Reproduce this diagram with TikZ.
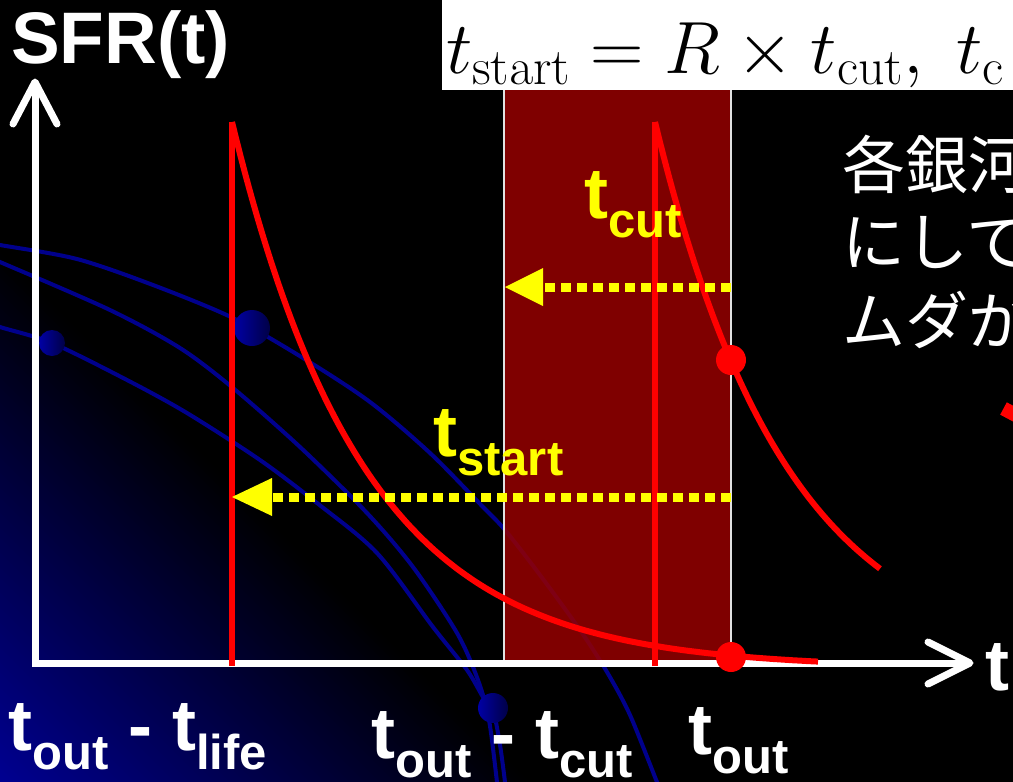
\RequirePackage{fix-cm}
\documentclass[tikz,border=0pt]{standalone}
\usepackage[no-math]{fontspec}
\setmainfont{Liberation Sans}
\newfontfamily\jpfont{Noto Sans CJK JP}
\usetikzlibrary{calc}
\definecolor{glowblue}{RGB}{0,0,145}
\definecolor{orbitblue}{RGB}{0,0,140}
\definecolor{ballhi}{RGB}{0,0,165}
\definecolor{balllo}{RGB}{0,0,70}
\definecolor{boxred}{RGB}{150,0,0}
\definecolor{sfrred}{RGB}{255,0,0}
\definecolor{labyellow}{RGB}{255,255,0}
\definecolor{edgegray}{RGB}{225,225,225}
\newcommand\tsb[1]{t\raisebox{-19pt}{\fontsize{49}{49}\selectfont #1}}
\tikzset{
  orbit/.style={draw=orbitblue, line width=4pt},
  ballshade/.style={left color=ballhi, right color=balllo},
  axisline/.style={draw=white, line width=7pt, line join=miter},
  axisbarb/.style={draw=white, line width=7pt, line cap=round, line join=round},
  sfr/.style={draw=sfrred, line width=6pt},
  sfrdot/.style={fill=sfrred},
  ydots/.style={draw=labyellow, line width=9pt, dash pattern=on 10pt off 6pt},
  yhead/.style={fill=labyellow},
  biglab/.style={inner sep=0pt, anchor=base west, font=\fontsize{72}{72}\selectfont\bfseries},
  jp/.style={inner sep=0pt, anchor=base west, text=white, font=\jpfont\fontsize{63}{63}\selectfont},
  boxedge/.style={draw=edgegray, line width=2pt}
}
\begin{document}
\begin{tikzpicture}[x=1pt,y=-1pt]
\useasboundingbox (0,0) rectangle (1013,782);
\clip (0,0) rectangle (1013,782);
\fill[black] (0,0) rectangle (1013,782);
% diagonal glow from the lower left corner
\coordinate (corner) at (0,782);
\foreach \i [evaluate=\i as \c using 5*\i, evaluate=\i as \p using {100*(1-(5*\i-2.5)/530)}] in {106,105,...,1}
  \fill[glowblue!\p!black] (corner) -- ++(\c,0) -- ++(-\c,-\c) -- cycle;
% orbits
\draw[orbit] plot[smooth] coordinates {(-10,243) (0,245) (77,259) (153,285) (233,318) (303,358) (370,402) (430,453) (483,507) (505,530) (540,575) (580,630) (607,672) (630,715) (657,782) (665,800)};
\draw[orbit] plot[smooth] coordinates {(-10,258) (0,262) (110,310) (180,348) (233,388) (300,447) (367,513) (413,567) (457,633) (478,680) (489,720) (497,782) (499,800)};
\draw[orbit] plot[smooth] coordinates {(-10,322) (0,327) (52,343) (127,380) (187,413) (260,460) (317,503) (377,553) (433,627) (467,670) (483,697) (493,710) (500,745) (505,782) (507,800)};
\shade[ballshade] (52,343) circle (13pt);
\shade[ballshade] (252,328) circle (18pt);
\shade[ballshade] (493,708) circle (15pt);
% cut window
\fill[boxred, fill opacity=0.85] (504,90) rectangle (731,663);
\coordinate (bl) at (504,90);
\coordinate (blb) at (504,663);
\coordinate (br) at (731,90);
\coordinate (brb) at (731,663);
\draw[boxedge] (bl) -- (blb);
\draw[boxedge] (br) -- (brb);
% axes
\coordinate (O) at (35,663);
\coordinate (ytop) at (35,82);
\coordinate (xend) at (970,663);
\draw[axisline] (ytop) -- (O) -- (xend);
\draw[axisbarb] ($(ytop)+(-22,42)$) -- (ytop) -- ($(ytop)+(22,42)$);
\draw[axisbarb] ($(xend)+(-42,-21)$) -- (xend) -- ($(xend)+(-42,21)$);
% SFR curves
\coordinate (peakA) at (232,122);
\coordinate (baseA) at (232,666);
\coordinate (peakB) at (655,122);
\coordinate (baseB) at (655,666);
\draw[sfr] (baseA) -- (peakA);
\draw[sfr] (baseB) -- (peakB);
\draw[sfr] plot[domain=232:818, samples=140] (\x, {668-546*exp(-(\x-232)/132)});
\draw[sfr] plot[domain=655:880, samples=80] (\x, {668-546*exp(-(\x-655)/132)});
\fill[sfrdot] (731,360) circle (15pt);
\fill[sfrdot] (731,657) circle (15pt);
% yellow arrows
\coordinate (cutR) at (731,287);
\coordinate (cutB) at (543,287);
\coordinate (cutT) at (505,287);
\draw[ydots] (cutR) -- (cutB);
\fill[yhead] (cutT) -- ($(cutB)+(0,-19)$) -- ($(cutB)+(0,19)$) -- cycle;
\coordinate (stR) at (731,497);
\coordinate (stB) at (272,497);
\coordinate (stT) at (232,497);
\draw[ydots] (stR) -- (stB);
\fill[yhead] (stT) -- ($(stB)+(0,-19)$) -- ($(stB)+(0,19)$) -- cycle;
% labels
\node[biglab, text=white, font=\fontsize{73}{73}\selectfont\bfseries] (sfrlab) at (11,63) {SFR(t)};
\node[biglab, text=labyellow] (tcutlab) at (584,218) {\tsb{cut}};
\node[biglab, text=labyellow] (tstartlab) at (433,456) {\tsb{start}};
\node[biglab, text=white] (lab1) at (8,750) {\tsb{out} - \tsb{life}};
\node[biglab, text=white] (lab2) at (371,758) {\tsb{out} - \tsb{cut}};
\node[biglab, text=white] (lab3) at (688,754) {\tsb{out}};
\node[biglab, text=white] (tlab) at (985,690) {t};
% formula box
\fill[white] (442,0) rectangle (1013,90);
\node[inner sep=0pt, anchor=base west, font=\fontsize{74}{74}\selectfont] (formula) at (446,73) {$t_{\mathrm{start}}=R\times t_{\mathrm{cut}},\ t_{\mathrm{c}}$};
% Japanese text
\node[jp] (jp1) at (842,188) {各銀河};
\node[jp] (jp2) at (842,265) {にして};
\node[jp] (jp3) at (842,344) {ムダが};
% red stroke at right edge
\coordinate (slashA) at (1003.5,408.5);
\coordinate (slashB) at (1033.5,424.5);
\draw[sfrred, line width=14pt] (slashA) -- (slashB);
\end{tikzpicture}
\end{document}
